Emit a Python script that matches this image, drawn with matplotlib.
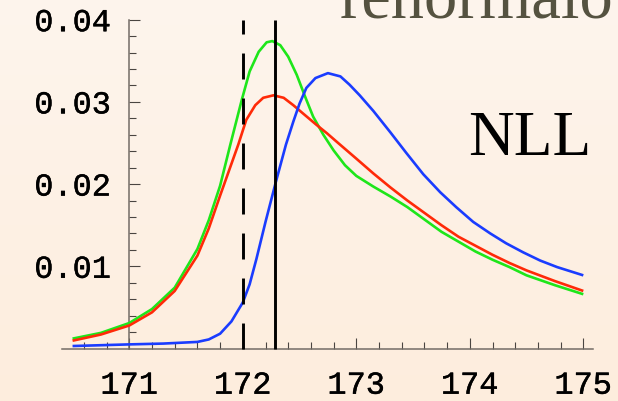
import numpy as np
import matplotlib
matplotlib.use("Agg")
import matplotlib.pyplot as plt
import matplotlib.patheffects as pe
from matplotlib.ticker import FixedLocator, FixedFormatter

plt.rcParams['lines.scale_dashes'] = False

# ---- data ----
green_x = [170.5, 170.75, 171.0, 171.2, 171.4, 171.6, 171.7, 171.8, 171.89, 171.99,
           172.06, 172.14, 172.21, 172.26, 172.33, 172.40, 172.475, 172.55, 172.62, 172.71,
           172.8, 172.9, 173.0, 173.15, 173.3, 173.45, 173.6, 173.75, 173.9, 174.05,
           174.2, 174.35, 174.5, 174.75, 175.0]
green_y = [0.0012, 0.0019, 0.0031, 0.0048, 0.0074, 0.0121, 0.0156, 0.0198, 0.0248, 0.0302,
           0.0337, 0.0361, 0.03725, 0.0374, 0.0369, 0.0355, 0.0333, 0.0306, 0.0282, 0.0260,
           0.0241, 0.0223, 0.0210, 0.0197, 0.0185, 0.0172, 0.0157, 0.0142, 0.0130, 0.0118,
           0.0108, 0.0099, 0.0089, 0.0077, 0.0066]

red_x = [170.5, 170.75, 171.0, 171.2, 171.4, 171.6, 171.7, 171.8, 171.88, 171.96,
         172.03, 172.11, 172.18, 172.27, 172.36, 172.445, 172.53, 172.65, 172.74, 172.84,
         173.0, 173.15, 173.3, 173.45, 173.6, 173.75, 173.9, 174.05, 174.2, 174.35,
         174.5, 174.75, 175.0]
red_y = [0.00095, 0.0017, 0.0028, 0.0044, 0.0070, 0.0113, 0.0146, 0.0186, 0.0217, 0.0248,
         0.0278, 0.0296, 0.0305, 0.0308, 0.0305, 0.0296, 0.0286, 0.0272, 0.0262, 0.0250,
         0.0231, 0.0213, 0.0196, 0.0180, 0.0165, 0.0150, 0.0136, 0.0125, 0.0114, 0.0104,
         0.0095, 0.0082, 0.0070]

blue_x = [170.5, 170.75, 171.0, 171.3, 171.6, 171.7, 171.8, 171.9, 172.0, 172.06,
          172.12, 172.2, 172.29, 172.38, 172.445, 172.50, 172.56, 172.64, 172.75, 172.86,
          172.94, 173.03, 173.15, 173.3, 173.44, 173.59, 173.74, 173.88, 174.03, 174.18,
          174.32, 174.47, 174.62, 174.77, 175.0]
blue_y = [0.0003, 0.0004, 0.0005, 0.0006, 0.0008, 0.0011, 0.0018, 0.0033, 0.0056, 0.0078,
          0.0109, 0.0154, 0.0202, 0.0248, 0.0276, 0.0298, 0.0317, 0.0329, 0.0335, 0.0331,
          0.0321, 0.0308, 0.0289, 0.0263, 0.0238, 0.0212, 0.0190, 0.0172, 0.0154, 0.0140,
          0.0128, 0.0117, 0.0107, 0.0099, 0.0089]

dashed_x = 172.0
solid_x = 172.28
vline_top = 0.04

x_major = [171, 172, 173, 174, 175]
x_labels = ["171", "172", "173", "174", "175"]
y_major = [0.01, 0.02, 0.03, 0.04]
y_labels = ["0.01", "0.02", "0.03", "0.04"]
x_minor = [170.6, 170.8, 171.2, 171.4, 171.6, 171.8, 172.2, 172.4, 172.6, 172.8,
           173.2, 173.4, 173.6, 173.8, 174.2, 174.4, 174.6, 174.8]
y_minor = [0.002, 0.004, 0.006, 0.008, 0.012, 0.014, 0.016, 0.018, 0.022, 0.024,
           0.026, 0.028, 0.032, 0.034, 0.036, 0.038]

title_text = "renormalo"
label_text = "NLL"

# ---- figure ----
W, H = 618, 402
fig = plt.figure(figsize=(W / 100, H / 100), dpi=100)

# background gradient
bg = fig.add_axes([0, 0, 1, 1], zorder=-10)
grad = np.linspace(0, 1, 256).reshape(-1, 1)
top = np.array([254, 245, 237]) / 255
bot = np.array([253, 237, 221]) / 255
img = top[None, None, :] * (1 - grad[:, :, None]) + bot[None, None, :] * grad[:, :, None]
bg.imshow(img, aspect='auto', extent=[0, 1, 0, 1])
bg.set_axis_off()

left_px, right_px = 61.7, 593.3
top_px, bottom_px = 20.7, 349.5
ax = fig.add_axes([left_px / W, (H - bottom_px) / H,
                   (right_px - left_px) / W, (bottom_px - top_px) / H])
ax.set_facecolor('none')
ax.set_xlim(170.4044, 175.088)
ax.set_ylim(0, 0.04)

lw = 1.9
common = dict(lw=lw, clip_on=False, solid_joinstyle='round', solid_capstyle='butt')
ax.plot(green_x, green_y, color='#1ee61a', zorder=3, **common)
ax.plot(red_x, red_y, color='#ff2a08', zorder=4, **common)
ax.plot(blue_x, blue_y, color='#1a3cff', zorder=5, **common)

ax.plot([dashed_x, dashed_x], [0, vline_top], color='black', lw=2.1,
        dashes=(18.7, 13.7), clip_on=False, zorder=6, solid_capstyle='butt',
        dash_capstyle='butt')
ax.plot([solid_x, solid_x], [0, vline_top], color='black', lw=2.1,
        clip_on=False, zorder=6, solid_capstyle='butt')

for s in ['top', 'right']:
    ax.spines[s].set_visible(False)
ax.spines['left'].set_position(('data', 171))
ax.spines['bottom'].set_position(('data', 0))
axis_col = '#736c66'
for s in ['left', 'bottom']:
    ax.spines[s].set_color(axis_col)
    ax.spines[s].set_linewidth(1.1)

ax.xaxis.set_major_locator(FixedLocator(x_major))
ax.xaxis.set_major_formatter(FixedFormatter(x_labels))
ax.xaxis.set_minor_locator(FixedLocator(x_minor))
ax.yaxis.set_major_locator(FixedLocator(y_major))
ax.yaxis.set_major_formatter(FixedFormatter(y_labels))
ax.yaxis.set_minor_locator(FixedLocator(y_minor))

tick_col = '#4a4541'
ax.tick_params(which='major', direction='in', length=7.9, width=0.8, color=tick_col,
               labelsize=23, labelcolor='black')
ax.tick_params(which='minor', direction='in', length=4.8, width=0.8, color=tick_col)
ax.tick_params(axis='x', which='major', pad=16)
ax.tick_params(axis='y', which='major', pad=13)
for lab in ax.get_xticklabels() + ax.get_yticklabels():
    lab.set_family('Liberation Mono')
    lab.set_path_effects([pe.withStroke(linewidth=0.3, foreground='black')])

fig.text(468 / W, (H - 155) / H, label_text, fontsize=45.5,
         family='Liberation Serif', color='black', ha='left', va='baseline')
fig.text(340 / W, (H - 17.5) / H, title_text, fontsize=48,
         family='Liberation Serif', color='#555240', ha='left', va='baseline')

fig.savefig('out.png', dpi=100)
